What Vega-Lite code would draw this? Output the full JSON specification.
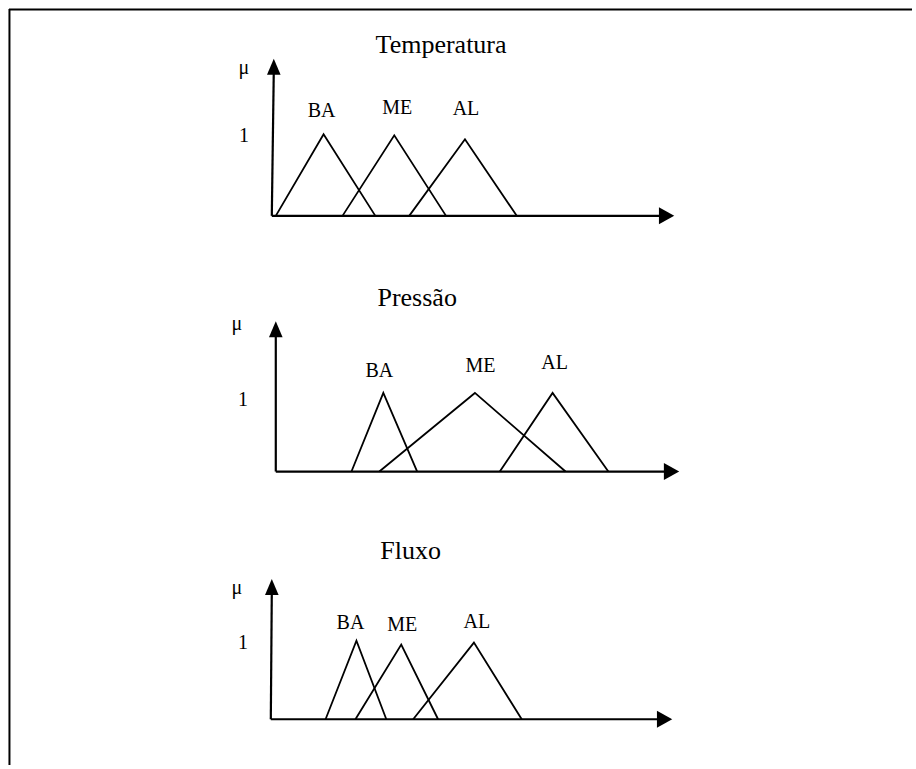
{
  "$schema": "https://vega.github.io/schema/vega-lite/v6.json",
  "width": 916,
  "height": 769,
  "autosize": {"type": "fit", "contains": "padding"},
  "padding": 0,
  "background": "white",
  "config": {"view": {"stroke": null}},
  "datasets": {
    "frame": [
      {"id": "top", "x": 9, "y": 9.5},
      {"id": "top", "x": 916, "y": 9.5},
      {"id": "left", "x": 9.5, "y": 9},
      {"id": "left", "x": 9.5, "y": 769}
    ],
    "axes": [
      {"id": "T-y", "o": 0, "x": 273, "y": 217},
      {"id": "T-y", "o": 1, "x": 275, "y": 70},
      {"id": "T-x", "o": 0, "x": 273, "y": 217},
      {"id": "T-x", "o": 1, "x": 668, "y": 217},
      {"id": "P-y", "o": 0, "x": 277, "y": 474},
      {"id": "P-y", "o": 1, "x": 277, "y": 334},
      {"id": "P-x", "o": 0, "x": 277, "y": 474},
      {"id": "P-x", "o": 1, "x": 673, "y": 474},
      {"id": "F-y", "o": 0, "x": 272, "y": 723},
      {"id": "F-y", "o": 1, "x": 273, "y": 593},
      {"id": "F-x", "o": 0, "x": 272, "y": 723},
      {"id": "F-x", "o": 1, "x": 666, "y": 723}
    ],
    "arrowsUp": [
      {"x": 275, "y": 67},
      {"x": 277, "y": 331},
      {"x": 273, "y": 590}
    ],
    "arrowsRight": [
      {"x": 669.5, "y": 217},
      {"x": 674.5, "y": 474},
      {"x": 667.5, "y": 723}
    ],
    "tri": [
      {"id": "T-BA", "o": 0, "x": 277, "y": 217},
      {"id": "T-BA", "o": 1, "x": 325, "y": 135},
      {"id": "T-BA", "o": 2, "x": 377, "y": 217},
      {"id": "T-ME", "o": 0, "x": 344, "y": 217},
      {"id": "T-ME", "o": 1, "x": 396, "y": 136},
      {"id": "T-ME", "o": 2, "x": 448, "y": 217},
      {"id": "T-AL", "o": 0, "x": 411, "y": 217},
      {"id": "T-AL", "o": 1, "x": 467, "y": 140},
      {"id": "T-AL", "o": 2, "x": 519, "y": 217},
      {"id": "P-BA", "o": 0, "x": 353, "y": 474},
      {"id": "P-BA", "o": 1, "x": 385, "y": 395},
      {"id": "P-BA", "o": 2, "x": 419, "y": 474},
      {"id": "P-ME", "o": 0, "x": 381, "y": 474},
      {"id": "P-ME", "o": 1, "x": 477, "y": 395},
      {"id": "P-ME", "o": 2, "x": 568, "y": 474},
      {"id": "P-AL", "o": 0, "x": 502, "y": 474},
      {"id": "P-AL", "o": 1, "x": 555, "y": 395},
      {"id": "P-AL", "o": 2, "x": 611, "y": 474},
      {"id": "F-BA", "o": 0, "x": 327, "y": 723},
      {"id": "F-BA", "o": 1, "x": 358, "y": 644},
      {"id": "F-BA", "o": 2, "x": 388, "y": 723},
      {"id": "F-ME", "o": 0, "x": 357, "y": 723},
      {"id": "F-ME", "o": 1, "x": 403, "y": 648},
      {"id": "F-ME", "o": 2, "x": 440, "y": 723},
      {"id": "F-AL", "o": 0, "x": 415, "y": 723},
      {"id": "F-AL", "o": 1, "x": 476, "y": 646},
      {"id": "F-AL", "o": 2, "x": 524, "y": 723}
    ],
    "titles": [
      {"label": "Temperatura", "x": 443, "y": 53},
      {"label": "Pressão", "x": 419, "y": 308},
      {"label": "Fluxo", "x": 412.5, "y": 562}
    ],
    "labels": [
      {"label": "μ", "x": 245, "y": 74},
      {"label": "1", "x": 245, "y": 143},
      {"label": "BA", "x": 323, "y": 118},
      {"label": "ME", "x": 399, "y": 115},
      {"label": "AL", "x": 468, "y": 116},
      {"label": "μ", "x": 238, "y": 332},
      {"label": "1", "x": 244, "y": 408},
      {"label": "BA", "x": 381, "y": 379},
      {"label": "ME", "x": 482.5, "y": 374},
      {"label": "AL", "x": 557, "y": 371},
      {"label": "μ", "x": 238, "y": 597},
      {"label": "1", "x": 244, "y": 652},
      {"label": "BA", "x": 352, "y": 632},
      {"label": "ME", "x": 404, "y": 634},
      {"label": "AL", "x": 479, "y": 631}
    ]
  },
  "encoding": {
    "x": {"field": "x", "type": "quantitative", "scale": {"domain": [0, 916], "nice": false, "zero": false}, "axis": null},
    "y": {"field": "y", "type": "quantitative", "scale": {"domain": [0, 769], "nice": false, "zero": false, "reverse": true}, "axis": null}
  },
  "layer": [
    {
      "data": {"name": "frame"},
      "mark": {"type": "line", "color": "black", "strokeWidth": 2, "clip": false},
      "encoding": {"detail": {"field": "id"}}
    },
    {
      "data": {"name": "axes"},
      "mark": {"type": "line", "color": "black", "strokeWidth": 2.2},
      "encoding": {"detail": {"field": "id"}, "order": {"field": "o"}}
    },
    {
      "data": {"name": "tri"},
      "mark": {"type": "line", "color": "black", "strokeWidth": 1.8},
      "encoding": {"detail": {"field": "id"}, "order": {"field": "o"}}
    },
    {
      "data": {"name": "arrowsUp"},
      "mark": {"type": "point", "shape": "M0,-1L0.85,1L-0.85,1Z", "size": 256, "filled": true, "color": "black", "opacity": 1}
    },
    {
      "data": {"name": "arrowsRight"},
      "mark": {"type": "point", "shape": "M0.9,0L-0.9,-1L-0.9,1Z", "size": 289, "filled": true, "color": "black", "opacity": 1}
    },
    {
      "data": {"name": "titles"},
      "mark": {"type": "text", "font": "Liberation Serif", "fontSize": 26, "align": "center", "baseline": "alphabetic", "color": "black"},
      "encoding": {"text": {"field": "label"}}
    },
    {
      "data": {"name": "labels"},
      "mark": {"type": "text", "font": "Liberation Serif", "fontSize": 20, "align": "center", "baseline": "alphabetic", "color": "black"},
      "encoding": {"text": {"field": "label"}}
    }
  ]
}
